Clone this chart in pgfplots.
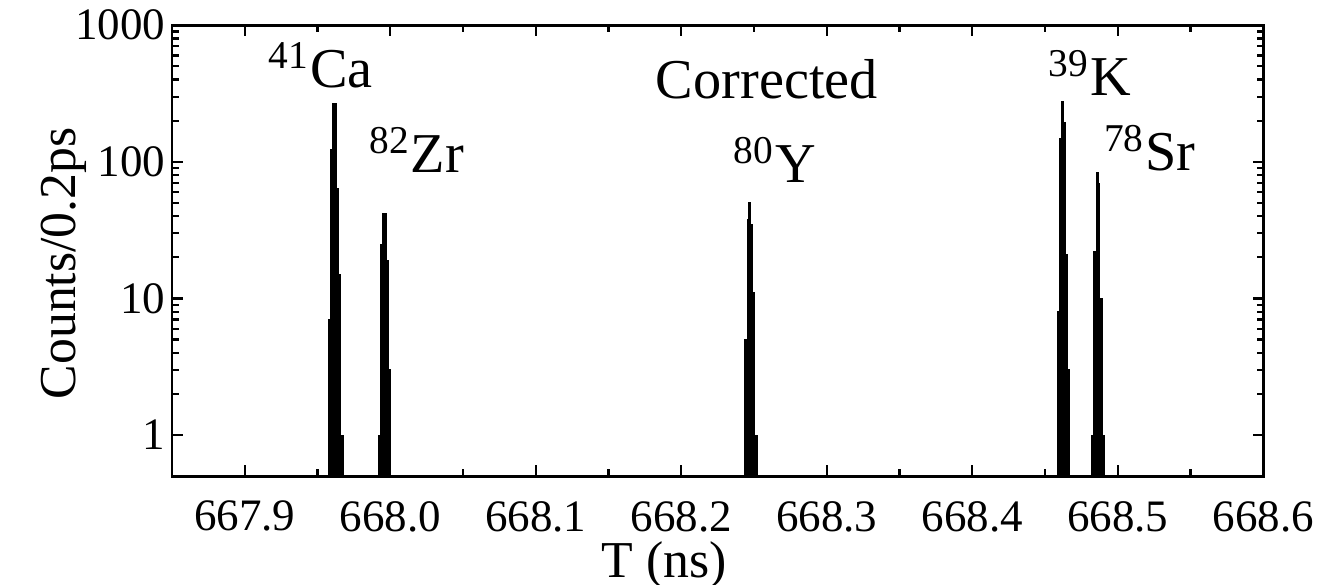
\documentclass[border=0pt]{standalone}
\usepackage{fontspec}
\setmainfont{Liberation Serif}
\usepackage{pgfplots}
\pgfplotsset{compat=1.18}

\begin{document}
\begin{tikzpicture}
\begin{axis}[
    scale only axis,
    width=242.5pt,
    height=100.2pt,
    xmin=667.85, xmax=668.6,
    ymode=log,
    ymin=0.5, ymax=1000,
    xtick={667.9,668.0,668.1,668.2,668.3,668.4,668.5,668.6},
    xticklabels={667.9,668.0,668.1,668.2,668.3,668.4,668.5,668.6},
    minor x tick num=1,
    ytick={1,10,100,1000},
    yticklabels={1,10,100,1000},
    tick align=inside,
    major tick length=2.4pt,
    minor tick length=1.5pt,
    axis line style={line width=0.6pt},
    every tick/.style={black, line width=0.5pt},
    tick label style={font=\fontsize{10}{12}\selectfont},
    xticklabel style={yshift=-2pt},
    yticklabel style={xshift=2pt},
    xlabel={T (ns)},
    ylabel={Counts/0.2ps},
    label style={font=\fontsize{11.5}{13}\selectfont},
    xlabel style={at={(axis description cs:0.451,-0.197)}, anchor=center},
    ylabel style={at={(axis description cs:-0.099,0.472)}, anchor=center},
]
% 41Ca
\addplot[const plot, fill=black, draw=black, line width=0.2pt] coordinates {
    (667.95773,0.5) (667.95773,7) (667.95890,124) (667.96048,266)
    (667.96302,64) (667.96460,15) (667.96577,1) (667.96756,1) (667.96756,0.5)
};
% 82Zr
\addplot[const plot, fill=black, draw=black, line width=0.2pt] coordinates {
    (667.99162,0.5) (667.99162,1) (667.99326,25) (667.99485,42)
    (667.99739,19) (667.99897,3) (668.00014,3) (668.00014,0.5)
};
% 80Y
\addplot[const plot, fill=black, draw=black, line width=0.2pt] coordinates {
    (668.24342,0.5) (668.24342,5) (668.24525,38) (668.24639,50)
    (668.24777,35) (668.24914,11) (668.25029,1) (668.25212,1) (668.25212,0.5)
};
% 39K
\addplot[const plot, fill=black, draw=black, line width=0.2pt] coordinates {
    (668.45830,0.5) (668.45830,8) (668.45991,149) (668.46128,277)
    (668.46243,195) (668.46403,21) (668.46564,3) (668.46678,3) (668.46678,0.5)
};
% 78Sr
\addplot[const plot, fill=black, draw=black, line width=0.2pt] coordinates {
    (668.48190,0.5) (668.48190,1) (668.48351,22) (668.48534,83)
    (668.48648,69) (668.48763,10) (668.48923,1) (668.49084,1) (668.49084,0.5)
};

\node[anchor=base, font=\fontsize{12.5}{14}\selectfont] at (axis cs:667.9522,348) {\textsuperscript{41}Ca};
\node[anchor=base, font=\fontsize{12.5}{14}\selectfont] at (axis cs:668.0182,83) {\textsuperscript{82}Zr};
\node[anchor=base, font=\fontsize{12.5}{14}\selectfont] at (axis cs:668.2588,290) {Corrected};
\node[anchor=base, font=\fontsize{12.5}{14}\selectfont] at (axis cs:668.2643,70) {\textsuperscript{80}Y};
\node[anchor=base, font=\fontsize{12.5}{14}\selectfont] at (axis cs:668.4808,304) {\textsuperscript{39}K};
\node[anchor=base, font=\fontsize{12.5}{14}\selectfont] at (axis cs:668.5220,86) {\textsuperscript{78}Sr};

\coordinate (SW) at (rel axis cs:0,0);
\coordinate (NE) at (rel axis cs:1,1);
\end{axis}
\pgfresetboundingbox
\path[use as bounding box] ([xshift=-38.2pt,yshift=-24pt]SW) rectangle ([xshift=15.7pt,yshift=5.6pt]NE);
\end{tikzpicture}
\end{document}
